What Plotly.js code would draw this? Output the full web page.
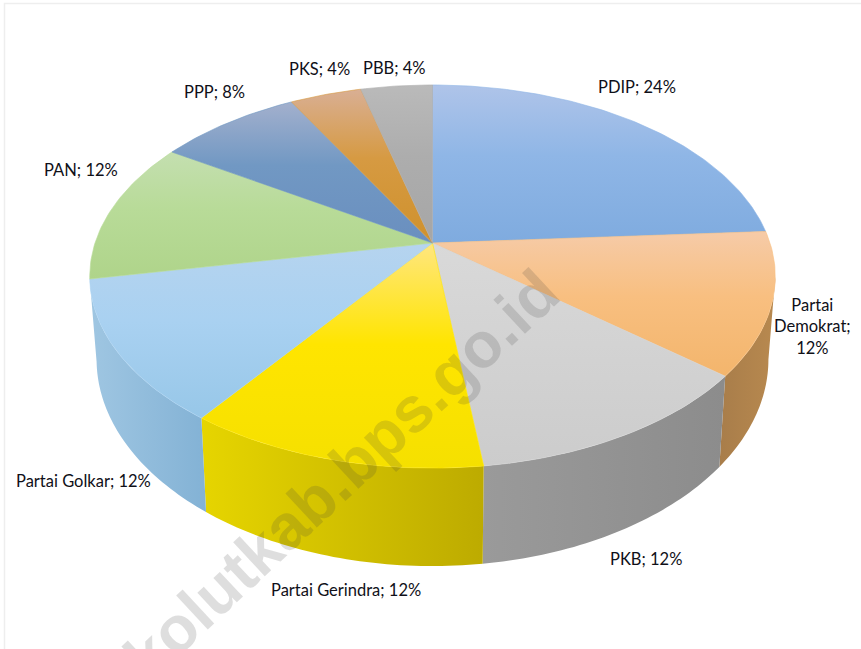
<!DOCTYPE html>
<html><head><meta charset="utf-8">
<script src="https://cdn.plot.ly/plotly-3.0.1.min.js"></script>
<style>html,body{margin:0;padding:0;background:#fff;overflow:hidden}</style>
</head><body><div id="chart" style="width:861px;height:649px"></div>
<script>
const categories = ["PDIP","Partai Demokrat","PKB","Partai Gerindra","Partai Golkar","PAN","PPP","PKS","PBB"];
const values = [24,12,12,12,12,12,8,4,4];
const labelTexts = ["PDIP; 24%","Partai<br>Demokrat;<br>12%","PKB; 12%","Partai Gerindra; 12%","Partai Golkar; 12%","PAN; 12%","PPP; 8%","PKS; 4%","PBB; 4%"];
const faceColors = [
 ["#AFC4E9","#8FB6E6","#7FABDF"],["#F6CBA8","#F8BF80","#F3B56C"],["#D9D9D9","#D3D3D3","#CCCCCC"],
 ["#FFE680","#FFE500","#F5E000"],["#B6D4EF","#A9D1F1","#97C7E8"],["#C4DFB0","#B8DB98","#AFD48A"],
 ["#A3B0CD","#7198C3","#6A8FBF"],["#D9AF94","#D69A42","#CF912C"],["#BABABA","#ADADAD","#A6A6A6"]];
const wallColors = [["#A87D4A","#B8894F"],["#9A9A9A","#8C8C8C"],["#E6D500","#BDAB00"],["#9FC6E2","#83B2D5"]];
const labelAnchorX = [637,812,646,346,83,81,214,319,394];
const labelAnchorY = [87,326,559,590,481,170,92,69,68];

const cx=432.5, cy=243, a=337.5, b=185.7, k=0.175, wallScaleX=0.98, wallScaleY=1.08, wallDrop=80;
const sideLimit = Math.acos(-k)*180/Math.PI;      // angle at which the rim is widest
function rim(deg){
  const t=deg*Math.PI/180, u=Math.sin(t), v=Math.cos(t), d=1+k*v;
  return [cx+a*u/d, cy-b*v/d];
}
function lowRim(deg){
  const p=rim(deg);
  return [cx+(p[0]-cx)*wallScaleX, cy+(p[1]-cy)*wallScaleY+wallDrop];
}
function span(from,to){
  const out=[], n=Math.max(2,Math.ceil(Math.abs(to-from)));
  for(let i=0;i<=n;i++) out.push(from+(to-from)*i/n);
  return out;
}
const total = values.reduce((s,v)=>s+v,0);
let acc=0;
const ranges = values.map(v=>{const r=[acc/total*360,(acc+v)/total*360]; acc+=v; return r;});

const traces=[];
// front walls
let w=0;
ranges.forEach((r)=>{
  const from=Math.max(r[0],sideLimit), to=Math.min(r[1],360-sideLimit);
  if(to-from<2) return;
  const angs=span(from,to);
  const up=angs.map(rim), low=angs.slice().reverse().map(lowRim);
  const pts=up.concat(low); pts.push(up[0]);
  const c=wallColors[w++];
  traces.push({type:"scatter",mode:"none",hoverinfo:"skip",fill:"toself",
    x:pts.map(p=>p[0]),y:pts.map(p=>p[1]),
    fillgradient:{type:"horizontal",colorscale:[[0,c[0]],[1,c[1]]]}});
});
// top faces
ranges.forEach((r,i)=>{
  const pts=[[cx,cy]].concat(span(r[0],r[1]).map(rim)); pts.push([cx,cy]);
  const c=faceColors[i];
  traces.push({type:"scatter",mode:"lines",line:{width:0.6,color:c[1]},name:categories[i],fill:"toself",
    x:pts.map(p=>p[0]),y:pts.map(p=>p[1]),
    fillgradient:{type:"vertical",colorscale:[[0,c[2]],[0.55,c[1]],[1,c[0]]]}});
});

const ann = labelTexts.map((t,i)=>({x:labelAnchorX[i],y:labelAnchorY[i],xref:"x",yref:"y",text:t,showarrow:false,
  xanchor:"center",yanchor:"middle",align:"center",font:{family:"Lato, sans-serif",size:16.5,color:"#101018"}}));
ann.push({x:341,y:475,xref:"x",yref:"y",text:"<b>kolutkab.bps.go.id</b>",textangle:-43,showarrow:false,
  xanchor:"center",yanchor:"middle",font:{family:"Liberation Sans, Arial, sans-serif",size:64,color:"rgba(60,60,60,0.17)"}});

Plotly.newPlot("chart",traces,{
  width:861,height:649,margin:{l:0,r:0,t:0,b:0},showlegend:false,
  paper_bgcolor:"#fff",plot_bgcolor:"#fff",
  xaxis:{range:[0,861],visible:false,fixedrange:true},
  yaxis:{range:[649,0],visible:false,fixedrange:true},
  shapes:[{type:"rect",xref:"x",yref:"y",x0:4.5,x1:900,y0:3.5,y1:700,line:{color:"#EEEEEE",width:1.5},layer:"below"}],
  annotations:ann
},{displayModeBar:false,staticPlot:true});
</script></body></html>
